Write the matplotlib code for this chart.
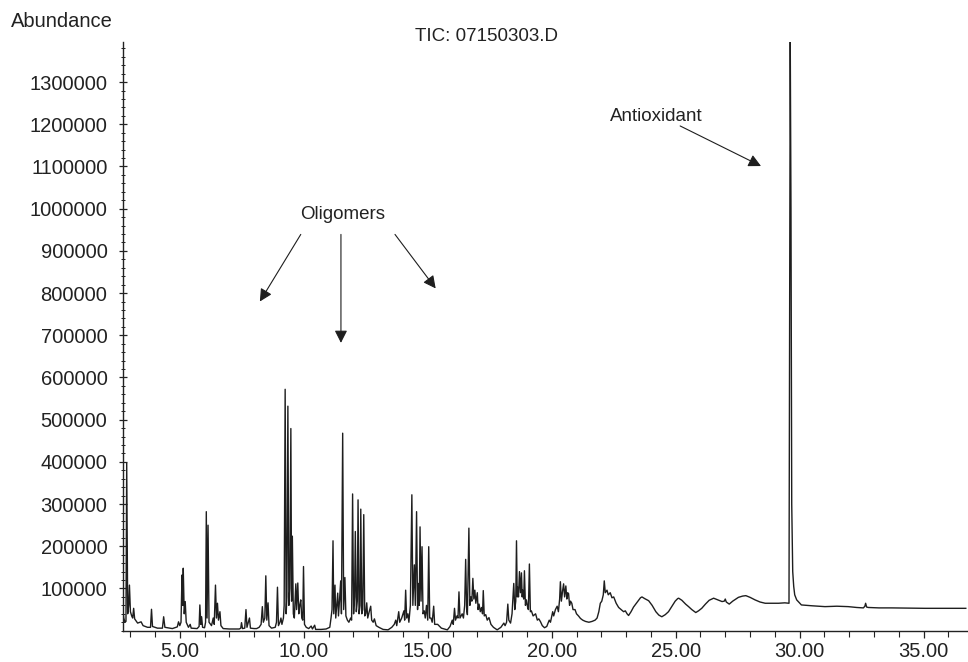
import numpy as np
import matplotlib
matplotlib.use('Agg')
import matplotlib.pyplot as plt
from matplotlib.ticker import MultipleLocator, FormatStrFormatter

plt.rcParams['font.family'] = ['Liberation Sans', 'DejaVu Sans']

# retention time (min) / abundance in segments
rt_early = [2.70, 2.74, 2.79, 2.83, 2.86, 2.90, 2.94, 2.97, 3.01, 3.06, 3.10, 3.14, 3.18, 3.30, 3.44, 3.52,
            3.70, 3.82, 3.86, 3.90, 4.10, 4.30, 4.35, 4.40, 4.70, 4.90, 4.95, 5.00, 5.05, 5.09, 5.12, 5.14,
            5.18, 5.22, 5.26, 5.35, 5.42, 5.46, 5.70, 5.78, 5.81, 5.85, 5.88, 5.92, 6.00, 6.04, 6.07, 6.10,
            6.14, 6.18, 6.28, 6.35, 6.39, 6.44, 6.48, 6.52, 6.56, 6.62, 6.66, 6.75, 7.00, 7.40, 7.46, 7.49,
            7.53, 7.62, 7.67, 7.71, 7.81, 7.85, 8.00]
ab_early = [53000, 30000, 20000, 22000, 397000, 40000, 60000, 108000, 45000, 35000, 30000, 53000, 28000, 18000, 21000, 12000,
            8000, 8000, 50700, 10000, 6000, 6000, 33000, 8000, 5000, 9000, 21000, 12000, 20000, 132000, 60000, 148000,
            40000, 69000, 20000, 8000, 15000, 6000, 5000, 10000, 61000, 15000, 33000, 8000, 7000, 20000, 282000, 30000,
            250000, 20000, 12000, 30000, 15000, 108000, 30000, 65000, 25000, 45000, 12000, 5000, 4000, 4000, 6000, 19000,
            5000, 6000, 50000, 8000, 30000, 6000, 5000]

rt_mid = [8.10, 8.20, 8.28, 8.33, 8.37, 8.43, 8.47, 8.51, 8.56, 8.60, 8.70, 8.85, 8.90, 8.94, 8.98, 9.04,
          9.08, 9.12, 9.18, 9.21, 9.25, 9.29, 9.32, 9.36, 9.40, 9.44, 9.48, 9.51, 9.54, 9.58, 9.62, 9.68,
          9.71, 9.76, 9.80, 9.84, 9.88, 9.92, 9.96, 9.99, 10.03, 10.10, 10.20, 10.30, 10.35, 10.44, 10.48, 10.70,
          10.90, 11.05, 11.10, 11.14, 11.18, 11.21, 11.26, 11.29, 11.33, 11.37, 11.40, 11.44, 11.49, 11.52, 11.57, 11.61,
          11.66, 11.70, 11.76, 11.82, 11.89, 11.93, 11.97, 12.01, 12.05, 12.08, 12.12, 12.16, 12.19, 12.23, 12.27, 12.30,
          12.34, 12.38, 12.42, 12.46, 12.50, 12.54, 12.58, 12.64, 12.70, 12.74, 12.80, 12.85, 12.92, 13.03, 13.20, 13.40]
ab_mid = [5000, 8000, 15000, 57000, 20000, 30000, 130000, 25000, 66000, 12000, 6000, 8000, 20000, 103000, 12000, 20000,
          30000, 15000, 30000, 60000, 572000, 40000, 80000, 532000, 60000, 100000, 479000, 70000, 224000, 40000, 30000, 111000,
          50000, 113000, 40000, 60000, 73000, 30000, 25000, 152000, 15000, 8000, 5000, 11000, 4000, 13000, 3000, 3000,
          4000, 8000, 30000, 50000, 213000, 40000, 108000, 30000, 60000, 89000, 35000, 70000, 118000, 40000, 468000, 50000,
          126000, 35000, 25000, 20000, 30000, 25000, 324000, 40000, 80000, 235000, 45000, 70000, 310000, 40000, 60000, 288000,
          40000, 50000, 275000, 35000, 40000, 66000, 30000, 45000, 58000, 25000, 20000, 28000, 12000, 8000, 3000, 2000]

rt_hump = [13.55, 13.65, 13.71, 13.75, 13.83, 13.87, 13.95, 14.04, 14.07, 14.11, 14.15, 14.20, 14.24, 14.30, 14.36, 14.40,
           14.46, 14.50, 14.55, 14.59, 14.62, 14.66, 14.69, 14.73, 14.77, 14.81, 14.86, 14.90, 14.95, 15.00, 15.04, 15.08,
           15.13, 15.18, 15.24, 15.28, 15.40, 15.55, 15.79, 15.90, 15.99, 16.03, 16.08, 16.12, 16.18, 16.22, 16.26, 16.30,
           16.39, 16.44, 16.49, 16.53, 16.57, 16.60, 16.66, 16.70, 16.74, 16.78, 16.82, 16.86, 16.90, 16.94, 17.00, 17.03,
           17.07, 17.12, 17.17, 17.21, 17.24, 17.28, 17.34, 17.40, 17.47, 17.55, 17.65, 17.80, 17.95, 18.07, 18.12, 18.18,
           18.23, 18.27, 18.34, 18.40, 18.47, 18.51, 18.55, 18.58, 18.61, 18.63, 18.66, 18.70, 18.74, 18.78, 18.81, 18.83,
           18.87, 18.90, 18.94, 18.98, 19.03, 19.06, 19.10, 19.14, 19.18, 19.25, 19.35, 19.42, 19.48, 19.55, 19.62, 19.71]
ab_hump = [8000, 15000, 25000, 12000, 45000, 20000, 30000, 47000, 25000, 96000, 30000, 40000, 20000, 60000, 322000, 60000,
           156000, 60000, 282000, 50000, 112000, 60000, 246000, 70000, 199000, 40000, 47000, 30000, 60000, 25000, 199000, 30000,
           30000, 20000, 58000, 15000, 15000, 6000, 2000, 10000, 25000, 15000, 53000, 25000, 35000, 30000, 92000, 30000,
           40000, 30000, 60000, 169000, 50000, 38000, 243000, 60000, 80000, 70000, 124000, 75000, 96000, 65000, 90000, 50000,
           63000, 45000, 55000, 40000, 95000, 35000, 38000, 25000, 31000, 15000, 8000, 2000, 8000, 18000, 12000, 20000,
           63000, 25000, 18000, 40000, 112000, 50000, 70000, 213000, 80000, 103000, 80000, 140000, 90000, 137000, 80000, 96000,
           75000, 142000, 60000, 73000, 55000, 50000, 158000, 45000, 47000, 35000, 40000, 25000, 28000, 21000, 12000, 7000]

rt_late = [19.80, 19.90, 19.95, 20.04, 20.08, 20.15, 20.22, 20.27, 20.32, 20.35, 20.39, 20.44, 20.48, 20.52, 20.57, 20.61,
           20.64, 20.68, 20.72, 20.76, 20.81, 20.86, 20.94, 21.00, 21.08, 21.16, 21.25, 21.36, 21.50, 21.63, 21.75, 21.83,
           21.90, 21.96, 22.02, 22.08, 22.12, 22.16, 22.23, 22.28, 22.36, 22.43, 22.50, 22.60, 22.70, 22.80, 22.90, 22.97,
           23.04, 23.10, 23.20, 23.30, 23.45, 23.58, 23.64, 23.75, 23.91, 24.05, 24.20, 24.32, 24.44, 24.58, 24.71, 24.84,
           24.98, 25.08, 25.12, 25.25, 25.40, 25.52, 25.65, 25.81, 25.92, 26.05, 26.20, 26.35, 26.53, 26.70, 26.87, 26.96,
           27.00, 27.04, 27.16, 27.30, 27.53, 27.70, 27.83, 28.00, 28.20, 28.40, 28.61, 28.90, 29.15, 29.40, 29.55]
ab_late = [10000, 25000, 20000, 45000, 35000, 50000, 58000, 45000, 75000, 116000, 70000, 95000, 111000, 80000, 106000, 75000,
           90000, 88000, 60000, 70000, 65000, 50000, 50000, 40000, 35000, 29000, 25000, 22000, 20000, 22000, 25000, 30000,
           45000, 65000, 70000, 85000, 118000, 90000, 96000, 85000, 90000, 78000, 80000, 65000, 55000, 50000, 45000, 47000,
           40000, 36000, 45000, 56000, 68000, 78000, 80000, 76000, 71000, 60000, 45000, 37000, 33000, 38000, 45000, 57000,
           70000, 76000, 77000, 72000, 63000, 57000, 50000, 43000, 47000, 53000, 63000, 72000, 77000, 73000, 69000, 70000,
           75000, 68000, 63000, 70000, 79000, 82000, 83000, 79000, 73000, 68000, 65000, 65000, 65000, 66000, 65000]

rt_tail = [29.57, 29.60, 29.62, 29.65, 29.68, 29.72, 29.76, 29.80, 29.88, 30.07, 30.50, 31.02, 31.50, 31.96, 32.30, 32.57,
           32.63, 32.66, 32.70, 32.77, 33.20, 33.71, 34.40, 35.05, 35.80, 36.70]
ab_tail = [65000, 900000, 1400000, 1000000, 300000, 140000, 105000, 85000, 73000, 61000, 59000, 57000, 58000, 57000, 55000, 54000,
           58000, 65000, 56000, 55000, 54000, 54000, 53500, 53000, 53000, 53000]

rt = np.concatenate([rt_early, rt_mid, rt_hump, rt_late, rt_tail])
abundance = np.concatenate([ab_early, ab_mid, ab_hump, ab_late, ab_tail])

fig = plt.figure(figsize=(9.68, 6.62), dpi=100)
ax = fig.add_axes([0.1268, 0.0473, 0.8722, 0.8893])

ax.plot(rt, abundance, color='#1e1e1e', lw=1.0)

ax.set_xlim(2.70, 36.75)
ax.set_ylim(0, 1395000)

ax.spines['top'].set_visible(False)
ax.spines['right'].set_visible(False)
for s in ['left', 'bottom']:
    ax.spines[s].set_linewidth(1.0)
    ax.spines[s].set_color('#222222')

ax.xaxis.set_major_locator(MultipleLocator(5))
ax.xaxis.set_minor_locator(MultipleLocator(1))
ax.xaxis.set_major_formatter(FormatStrFormatter('%.2f'))
ax.yaxis.set_major_locator(MultipleLocator(100000))
ax.yaxis.set_minor_locator(MultipleLocator(20000))
ax.yaxis.set_major_formatter(FormatStrFormatter('%d'))
ax.set_yticks(np.arange(100000, 1300001, 100000))

ax.tick_params(axis='x', which='major', direction='out', length=5, width=0.9, pad=3,
               labelsize=14.5, colors='#222222')
ax.tick_params(axis='x', which='minor', direction='out', length=4, width=0.8, colors='#222222')
ax.tick_params(axis='y', which='major', direction='inout', length=6, width=0.9, pad=8,
               labelsize=14.5, colors='#222222')
ax.tick_params(axis='y', which='minor', direction='inout', length=3, width=0.7, colors='#222222')

fig.text(0.011, 0.967, 'Abundance', fontsize=14.5, color='#222222', ha='left', va='center')
fig.text(0.503, 0.945, 'TIC: 07150303.D', fontsize=13.5, color='#222222', ha='center', va='center')

arrow_kw = dict(arrowstyle='-|>,head_length=0.75,head_width=0.38', color='#1e1e1e', lw=0.8,
                shrinkA=0, shrinkB=0, mutation_scale=10)

ax.text(11.57, 985000, 'Oligomers', fontsize=13.5, color='#222222', ha='center', va='center')
ax.annotate('', xy=(8.23, 780000), xytext=(9.88, 939000), arrowprops=arrow_kw)
ax.annotate('', xy=(11.50, 682000), xytext=(11.50, 939000), arrowprops=arrow_kw)
ax.annotate('', xy=(15.32, 811000), xytext=(13.68, 939000), arrowprops=arrow_kw)

ax.text(24.21, 1218000, 'Antioxidant', fontsize=13.5, color='#222222', ha='center', va='center')
ax.annotate('', xy=(28.44, 1101000), xytext=(25.18, 1196000), arrowprops=arrow_kw)

fig.savefig('out.png', dpi=100)
